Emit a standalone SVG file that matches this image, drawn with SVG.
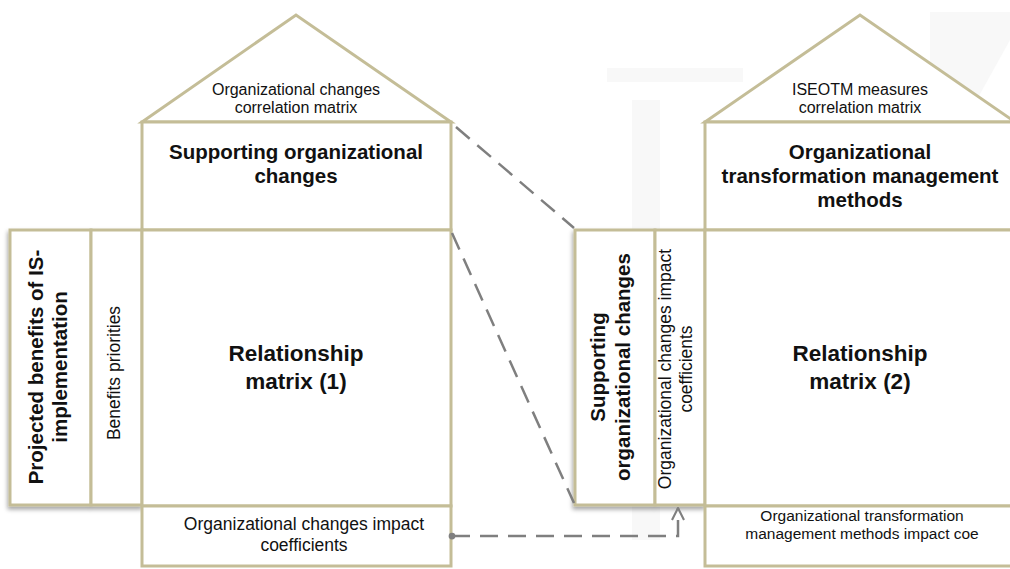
<svg xmlns="http://www.w3.org/2000/svg" width="1010" height="569" viewBox="0 0 1010 569">
<style>
.box{fill:#fff;stroke:#c4bd97;stroke-width:3}
.t{font-family:"Liberation Sans",Arial,sans-serif;fill:#111;text-anchor:middle}
.b{font-weight:bold}
.con{fill:none;stroke:#7f7f7f;stroke-width:2.5;stroke-dasharray:18 10}
.wm{fill:#f8f8f8}
</style>
<defs>
<filter id="sh" x="-10%" y="-10%" width="130%" height="130%">
<feDropShadow dx="-1" dy="3" stdDeviation="2" flood-color="#000" flood-opacity="0.35"/>
</filter>
<marker id="arr" viewBox="0 0 10 10" refX="9" refY="5" markerWidth="6" markerHeight="6" orient="auto">
<path d="M1,1 L9,5 L1,9" fill="none" stroke="#7f7f7f" stroke-width="1.4"/>
</marker>
<marker id="dot" viewBox="0 0 10 10" refX="5" refY="5" markerWidth="3" markerHeight="3" orient="auto">
<circle cx="5" cy="5" r="4.5" fill="#7f7f7f"/>
</marker>
</defs>
<rect width="1010" height="569" fill="#fff"/>
<g id="watermark">
<rect class="wm" x="607" y="68" width="136" height="14"/>
<rect class="wm" x="632" y="100" width="28" height="440"/>
<polygon class="wm" points="930,12 1010,12 1010,40 960,130 930,130"/>
</g>

<g id="house1">
<g id="roof1">
<polygon class="box" points="142,122 296,15 451,122"/>
<text class="t" font-size="16" x="296" y="95">Organizational changes</text>
<text class="t" font-size="16" x="296" y="113">correlation matrix</text>
</g>
<g id="top1">
<rect class="box" x="142" y="122" width="309" height="108"/>
<text class="t b" font-size="20.5" x="296" y="159">Supporting organizational</text>
<text class="t b" font-size="20.5" x="296" y="183">changes</text>
</g>
<g id="cols1" filter="url(#sh)">
<rect class="box" x="10" y="230" width="81" height="275"/>
<rect class="box" x="91" y="230" width="51" height="275"/>
</g>
<g id="projected">
<text class="t b" font-size="20.5" transform="translate(43,367) rotate(-90)">Projected benefits of IS-</text>
<text class="t b" font-size="20.5" transform="translate(67,367) rotate(-90)">implementation</text>
</g>
<g id="priorities">
<text class="t" font-size="17.5" transform="translate(120,373) rotate(-90)">Benefits priorities</text>
</g>
<g id="matrix1">
<rect class="box" x="142" y="230" width="309" height="276"/>
<text class="t b" font-size="22.5" x="296" y="361">Relationship</text>
<text class="t b" font-size="22.5" x="296" y="389">matrix (1)</text>
</g>
<g id="bottom1">
<rect class="box" x="142" y="506" width="309" height="60"/>
<text class="t" font-size="17.5" x="304" y="530">Organizational changes impact</text>
<text class="t" font-size="17.5" x="304" y="551">coefficients</text>
</g>
</g>

<g id="house2">
<g id="roof2">
<polygon class="box" points="705,122 860,15 1015,122"/>
<text class="t" font-size="16" x="860" y="95">ISEOTM measures</text>
<text class="t" font-size="16" x="860" y="113">correlation matrix</text>
</g>
<g id="top2">
<rect class="box" x="705" y="122" width="310" height="108"/>
<text class="t b" font-size="20.5" x="860" y="159">Organizational</text>
<text class="t b" font-size="20.5" x="860" y="183">transformation management</text>
<text class="t b" font-size="20.5" x="860" y="207">methods</text>
</g>
<g id="cols2" filter="url(#sh)">
<rect class="box" x="575" y="230" width="80" height="275"/>
<rect class="box" x="655" y="230" width="50" height="275"/>
</g>
<g id="supporting2">
<text class="t b" font-size="20.5" transform="translate(605,367) rotate(-90)">Supporting</text>
<text class="t b" font-size="20.5" transform="translate(630,367) rotate(-90)">organizational changes</text>
</g>
<g id="impact2">
<text class="t" font-size="17.5" transform="translate(671,369) rotate(-90)">Organizational changes impact</text>
<text class="t" font-size="17.5" transform="translate(692,369) rotate(-90)">coefficients</text>
</g>
<g id="matrix2">
<rect class="box" x="705" y="230" width="310" height="276"/>
<text class="t b" font-size="22.5" x="860" y="361">Relationship</text>
<text class="t b" font-size="22.5" x="860" y="389">matrix (2)</text>
</g>
<g id="bottom2">
<rect class="box" x="705" y="506" width="310" height="60"/>
<text class="t" font-size="15.5" x="862" y="521">Organizational transformation</text>
<text class="t" font-size="15.5" x="862" y="539">management methods impact coe</text>
</g>
</g>

<g id="connectors">
<line class="con" x1="456" y1="127" x2="574" y2="228"/>
<line class="con" x1="452" y1="233" x2="574" y2="503"/>
<path class="con" d="M452,536 H678 V508" marker-start="url(#dot)" marker-end="url(#arr)"/>
</g>
</svg>
